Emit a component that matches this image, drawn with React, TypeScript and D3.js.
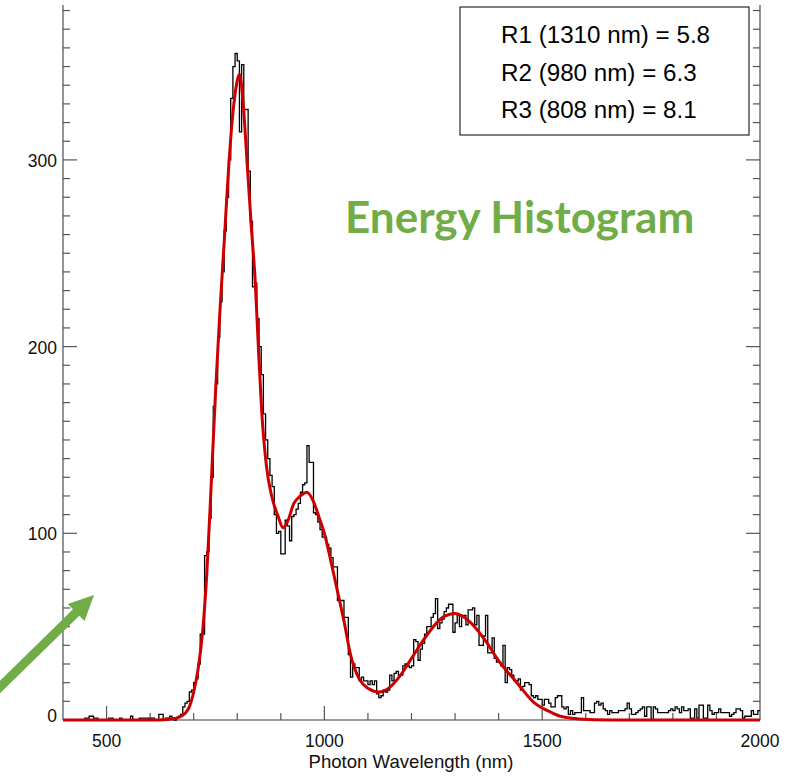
import React from "react";
import * as d3 from "d3";

// Histogram of detected photons, 5 nm bins starting at 400 nm
const BIN_START = 400;
const BIN_WIDTH = 5;
const COUNTS = [
  0, 0, 0, 0, 0, 0, 0, 0, 0, 0,
  1, 1, 2, 2, 1, 1, 0, 0, 0, 0,
  0, 1, 1, 0, 0, 0, 1, 0, 0, 0,
  0, 2, 0, 0, 0, 1, 1, 1, 1, 1,
  1, 1, 0, 0, 3, 3, 0, 1, 1, 2,
  1, 0, 1, 2, 3, 7, 9, 10, 15, 16,
  20, 22, 30, 46, 46, 88, 90, 108, 130, 168,
  180, 205, 224, 240, 262, 280, 300, 333, 350, 357,
  353, 315, 351, 327, 327, 294, 267, 232, 234, 215,
  200, 185, 164, 150, 140, 131, 125, 110, 100, 101,
  89, 89, 107, 104, 96, 109, 110, 113, 116, 122,
  126, 127, 147, 138, 138, 111, 110, 106, 102, 98,
  98, 94, 92, 87, 82, 82, 64, 64, 64, 55,
  55, 35, 23, 30, 28, 28, 21, 23, 21, 21,
  19, 21, 19, 21, 14, 12, 13, 16, 15, 16,
  24, 21, 25, 26, 24, 24, 29, 30, 29, 28,
  29, 43, 42, 32, 38, 41, 46, 50, 50, 55,
  57, 65, 49, 52, 54, 58, 60, 62, 62, 47,
  52, 56, 50, 56, 56, 51, 59, 59, 60, 51,
  56, 40, 40, 45, 56, 36, 36, 44, 33, 31,
  31, 29, 40, 20, 28, 27, 24, 21, 21, 22,
  16, 18, 20, 20, 19, 13, 12, 13, 11, 11,
  8, 11, 11, 9, 7, 7, 12, 13, 13, 7,
  6, 7, 3, 5, 3, 4, 4, 4, 12, 5,
  5, 5, 4, 4, 9, 10, 8, 9, 6, 5,
  3, 5, 4, 4, 4, 5, 5, 5, 6, 9,
  6, 3, 3, 4, 5, 6, 7, 2, 7, 7,
  0, 7, 6, 4, 4, 4, 4, 4, 5, 6,
  5, 7, 6, 4, 7, 5, 5, 6, 1, 1,
  6, 1, 8, 8, 1, 1, 8, 5, 3, 4,
  4, 6, 4, 4, 4, 4, 2, 3, 4, 6,
  6, 5, 1, 2, 2, 2, 5, 3, 3, 5,
];

// Three-peak fit, sampled (wavelength in nm, counts)
const FIT_NM = [
  400, 600, 640, 660, 680, 690, 700, 710, 720, 730, 740, 750, 760, 770, 780,
  790, 798, 805, 814, 823, 833, 841, 848, 856, 867, 879, 894, 905, 915, 930,
  945, 960, 975, 990, 1000, 1015, 1030, 1045, 1060, 1080, 1100, 1125, 1150,
  1175, 1200, 1228, 1250, 1275, 1300, 1334, 1365, 1404, 1442, 1480, 1519,
  1542, 1575, 1620, 1700, 2000,
];
const FIT_VAL = [
  0, 0, 0.3, 1, 3.5, 7, 15, 27, 46, 78, 125, 175, 218, 256, 295,
  325, 340, 346, 329, 297, 262, 236, 202, 166, 136, 120, 109, 103, 106, 116,
  120, 122, 117, 107, 100, 85, 69, 53, 35, 22, 17, 15, 17.5,
  24, 33, 43, 50, 55.5, 57, 52.5, 44, 30.5, 20, 9.6, 4.3,
  2, 0.8, 0.2, 0, 0,
];

const X_MAJOR = [500, 1000, 1500, 2000];
const Y_MAJOR = [0, 100, 200, 300];
const LEGEND_LINES = [
  "R1 (1310 nm) = 5.8",
  "R2 (980 nm) = 6.3",
  "R3 (808 nm) = 8.1",
];
const TITLE = "Energy Histogram";
const X_TITLE = "Photon Wavelength (nm)";

const W = 794;
const H = 778;
const FONT = "'Liberation Sans', Arial, Helvetica, sans-serif";
const GREEN = "#70ad47";

export default function App() {
  const x = d3.scaleLinear().domain([400, 2000]).range([63, 760]);
  const y = d3.scaleLinear().domain([0, 100]).range([720, 533.3]);
  const plotTop = 5;

  const histPts: [number, number][] = COUNTS.map((c, i) => [
    BIN_START + i * BIN_WIDTH,
    c,
  ]);
  histPts.push([2000, COUNTS[COUNTS.length - 1]]);
  const histPath = d3
    .line<[number, number]>()
    .x((d) => x(d[0]))
    .y((d) => y(d[1]))
    .curve(d3.curveStepAfter)(histPts);

  const fitPath = d3
    .line<number>()
    .x((d) => x(d))
    .y((_, i) => y(FIT_VAL[i]))
    .curve(d3.curveMonotoneX)(FIT_NM);

  const yMinor = d3.range(0, 381, 10);
  const xMinor = d3.range(500, 2000, 100);

  // pointer arrow at lower left
  const tip = [94, 595];
  const dir = [94, -92];
  const len = Math.hypot(dir[0], dir[1]);
  const u = [dir[0] / len, dir[1] / len];
  const n = [-u[1], u[0]];
  const headL = 25, headW = 12, shaftW = 4.5, shaftL = 150;
  const base = [tip[0] - headL * u[0], tip[1] - headL * u[1]];
  const tail = [tip[0] - shaftL * u[0], tip[1] - shaftL * u[1]];
  const p = (c: number[], k: number) => `${c[0] + k * n[0]},${c[1] + k * n[1]}`;
  const arrow = [
    p(tail, shaftW),
    p(base, shaftW),
    p(base, headW),
    `${tip[0]},${tip[1]}`,
    p(base, -headW),
    p(base, -shaftW),
    p(tail, -shaftW),
  ].join(" ");

  return (
    <div style={{ position: "absolute", left: 0, top: 0 }}>
      <svg width={W} height={H} viewBox={`0 0 ${W} ${H}`} style={{ display: "block", background: "#fff" }}>
        {/* axes frame */}
        <g stroke="#7a7a7a" strokeWidth={1.6} fill="none">
          <line x1={x(400)} x2={x(400)} y1={plotTop} y2={y(0)} />
          <line x1={x(2000)} x2={x(2000)} y1={plotTop} y2={y(0)} />
          <line x1={x(400)} x2={x(2000)} y1={y(0)} y2={y(0)} />
        </g>
        {/* y ticks, both sides pointing inward */}
        <g stroke="#555" strokeWidth={1.2}>
          {yMinor.map((v) => {
            const major = v % 100 === 0;
            const l = major ? 14 : 7;
            return (
              <g key={v}>
                <line x1={x(400)} x2={x(400) + l} y1={y(v)} y2={y(v)} />
                <line x1={x(2000)} x2={x(2000) - l} y1={y(v)} y2={y(v)} />
              </g>
            );
          })}
          {xMinor.map((v) => {
            const major = v % 500 === 0;
            const l = major ? 14 : 7;
            return <line key={v} x1={x(v)} x2={x(v)} y1={y(0)} y2={y(0) - l} />;
          })}
        </g>
        {/* tick labels */}
        <g fontFamily={FONT} fontSize={17.5} fill="#111">
          {Y_MAJOR.map((v) => (
            <text key={v} x={57} y={v === 0 ? y(v) + 2 : y(v) + 7} textAnchor="end">
              {v}
            </text>
          ))}
          {X_MAJOR.map((v) => (
            <text key={v} x={x(v)} y={746.5} textAnchor="middle">
              {v}
            </text>
          ))}
        </g>
        <text x={411} y={768} textAnchor="middle" fontFamily={FONT} fontSize={18.6} fill="#111">
          {X_TITLE}
        </text>

        {/* histogram and fit */}
        <path d={histPath || ""} fill="none" stroke="#000" strokeWidth={1.3} />
        <path d={fitPath || ""} fill="none" stroke="#cc0000" strokeWidth={3} strokeLinejoin="round" />

        {/* legend box */}
        <rect x={460} y={7} width={289} height={128} fill="#fff" stroke="#000" strokeWidth={1} />
        <g fontFamily={FONT} fontSize={24.2} fill="#000">
          {LEGEND_LINES.map((t, i) => (
            <text key={t} x={501} y={43 + i * 37.5}>
              {t}
            </text>
          ))}
        </g>

        <text x={345} y={233} fontFamily="Lato, 'Open Sans', sans-serif" fontWeight={700} fontSize={44} fill={GREEN}>
          {TITLE}
        </text>

        <polygon points={arrow} fill={GREEN} />
      </svg>
    </div>
  );
}
